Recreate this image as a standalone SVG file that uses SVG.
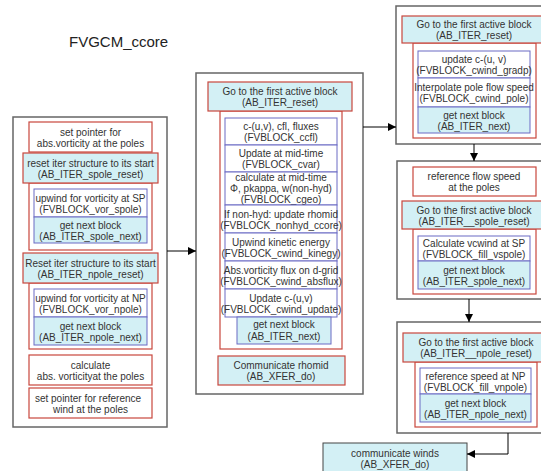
<svg xmlns="http://www.w3.org/2000/svg" width="541" height="471" viewBox="0 0 541 471">
<style>
.outer{fill:#fff;stroke:#666;stroke-width:1.5}
.red{fill:#fff;stroke:#c9473d;stroke-width:1.2}
.loop{fill:none;stroke:#c9473d;stroke-width:1.2}
.hdr{fill:#d3f0f5;stroke:#c9473d;stroke-width:1.2}
.blue{fill:#fff;stroke:#6a6ac4;stroke-width:1}
.bluec{fill:#d3f0f5;stroke:#6a6ac4;stroke-width:1}
.dark{fill:#d3f0f5;stroke:#444;stroke-width:1}
text{font-family:"Liberation Sans",Arial,sans-serif;font-size:10px;fill:#333;text-anchor:middle}
.title{font-size:15px;text-anchor:start;fill:#222}
.conn{fill:none;stroke:#000;stroke-width:1}
</style>
<defs>
<marker id="ah" markerUnits="userSpaceOnUse" markerWidth="8" markerHeight="8" refX="8" refY="4" orient="auto">
<path d="M0,0 L8,4 L0,8 z" fill="#000"/>
</marker>
</defs>
<rect width="541" height="471" fill="#fff"/>
<text class="title" x="69" y="47">FVGCM_ccore</text>

<g id="left">
<rect class="outer" x="13" y="117" width="154" height="310"/>
<g id="l-setptr"><rect class="red" x="29" y="122" width="123" height="30"/>
<text x="90.5" y="135.5">set pointer for</text><text x="90.5" y="146.5">abs.vorticity at the poles</text></g>
<rect class="loop" x="29" y="183" width="123" height="67"/>
<g id="l-spreset"><rect class="hdr" x="23" y="153" width="135" height="30"/>
<text x="90.5" y="166.5">reset iter structure to its start</text><text x="90.5" y="177.5">(AB_ITER_spole_reset)</text></g>
<g id="l-vorsp"><rect class="blue" x="34" y="189" width="113" height="28"/>
<text x="90.5" y="201.5">upwind for vorticity at SP</text><text x="90.5" y="212.5">(FVBLOCK_vor_spole)</text></g>
<g id="l-spnext"><rect class="bluec" x="34" y="217" width="113" height="26"/>
<text x="90.5" y="228.5">get next block</text><text x="90.5" y="239.5">(AB_ITER_spole_next)</text></g>
<rect class="loop" x="29" y="283" width="123" height="66"/>
<g id="l-npreset"><rect class="hdr" x="23" y="253" width="135" height="30"/>
<text x="90.5" y="266.5">Reset iter structure to its start</text><text x="90.5" y="277.5">(AB_ITER_npole_reset)</text></g>
<g id="l-vornp"><rect class="blue" x="34" y="289" width="113" height="28"/>
<text x="90.5" y="301.5">upwind for vorticity at NP</text><text x="90.5" y="312.5">(FVBLOCK_vor_npole)</text></g>
<g id="l-npnext"><rect class="bluec" x="34" y="317" width="113" height="28"/>
<text x="90.5" y="329.5">get next block</text><text x="90.5" y="340.5">(AB_ITER_npole_next)</text></g>
<g id="l-calc"><rect class="red" x="29" y="355" width="123" height="30"/>
<text x="90.5" y="368.5">calculate</text><text x="90.5" y="379.5">abs. vorticityat the poles</text></g>
<g id="l-setref"><rect class="red" x="29" y="388" width="123" height="30"/>
<text x="88" y="401.5">set pointer for reference</text><text x="90.5" y="412.5">wind at the poles</text></g>
</g>

<g id="middle">
<rect class="outer" x="196" y="73" width="167" height="321"/>
<rect class="loop" x="220" y="111" width="122" height="238"/>
<g id="m-reset"><rect class="hdr" x="208" y="82" width="144" height="29"/>
<text x="280" y="95">Go to the first active block</text><text x="280" y="106">(AB_ITER_reset)</text></g>
<g id="m-ccfl"><rect class="blue" x="225" y="118" width="112" height="27"/>
<text x="281" y="130">c-(u,v), cfl, fluxes</text><text x="281" y="141">(FVBLOCK_ccfl)</text></g>
<g id="m-cvar"><rect class="blue" x="225" y="145" width="112" height="27"/>
<text x="281" y="157">Update at mid-time</text><text x="281" y="168">(FVBLOCK_cvar)</text></g>
<g id="m-cgeo"><rect class="blue" x="225" y="172" width="112" height="33"/>
<text x="281" y="180.5">calculate at mid-time</text><text x="281" y="191.5">Φ, pkappa, w(non-hyd)</text><text x="281" y="202.5">(FVBLOCK_cgeo)</text></g>
<g id="m-nonhyd"><rect class="blue" x="225" y="205" width="112" height="28"/>
<text x="281" y="217.5">If non-hyd: update rhomid</text><text x="281" y="228.5">(FVBLOCK_nonhyd_ccore)</text></g>
<g id="m-kinegy"><rect class="blue" x="225" y="233" width="112" height="28"/>
<text x="281" y="245.5">Upwind kinetic energy</text><text x="281" y="256.5">(FVBLOCK_cwind_kinegy)</text></g>
<g id="m-absflux"><rect class="blue" x="225" y="261" width="112" height="28"/>
<text x="281" y="273.5">Abs.vorticity flux on d-grid</text><text x="281" y="284.5">(FVBLOCK_cwind_absflux)</text></g>
<g id="m-update"><rect class="blue" x="225" y="289" width="112" height="28"/>
<text x="281" y="301.5">Update c-(u,v)</text><text x="281" y="312.5">(FVBLOCK_cwind_update)</text></g>
<g id="m-next"><rect class="bluec" x="237" y="317" width="94" height="27"/>
<text x="284" y="327.5">get next block</text><text x="284" y="339.5">(AB_ITER_next)</text></g>
<g id="m-xfer"><rect class="hdr" x="218" y="356" width="127" height="29"/>
<text x="281" y="369">Communicate rhomid</text><text x="281" y="380">(AB_XFER_do)</text></g>
</g>

<g id="right1">
<rect class="outer" x="396" y="6" width="152" height="138"/>
<rect class="loop" x="413" y="43" width="123" height="95"/>
<g id="r1-reset"><rect class="hdr" x="402" y="16" width="146" height="27"/>
<text x="474" y="28">Go to the first active block</text><text x="474" y="39">(AB_ITER_reset)</text></g>
<g id="r1-gradp"><rect class="blue" x="418" y="51" width="112" height="27"/>
<text x="474" y="63">update c-(u, v)</text><text x="474" y="74">(FVBLOCK_cwind_gradp)</text></g>
<g id="r1-pole"><rect class="blue" x="418" y="78" width="112" height="29"/>
<text x="474" y="91">Interpolate pole flow speed</text><text x="474" y="102">(FVBLOCK_cwind_pole)</text></g>
<g id="r1-next"><rect class="bluec" x="418" y="107" width="112" height="26"/>
<text x="474" y="118.5">get next block</text><text x="474" y="129.5">(AB_ITER_next)</text></g>
</g>

<g id="right2">
<rect class="outer" x="397" y="161" width="151" height="138"/>
<g id="r2-ref"><rect class="red" x="413" y="167" width="123" height="29"/>
<text x="474" y="180">reference flow speed</text><text x="474" y="191">at the poles</text></g>
<rect class="loop" x="413" y="229" width="123" height="65"/>
<g id="r2-reset"><rect class="hdr" x="402" y="201" width="146" height="28"/>
<text x="474" y="213.5">Go to the first active block</text><text x="474" y="224.5">(AB_ITER__spole_reset)</text></g>
<g id="r2-vspole"><rect class="blue" x="418" y="236" width="112" height="25"/>
<text x="474" y="247">Calculate vcwind at SP</text><text x="474" y="258">(FVBLOCK_fill_vspole)</text></g>
<g id="r2-next"><rect class="bluec" x="418" y="261" width="112" height="28"/>
<text x="474" y="273.5">get next block</text><text x="474" y="284.5">(AB_ITER_spole_next)</text></g>
</g>

<g id="right3">
<rect class="outer" x="397" y="322" width="151" height="111"/>
<rect class="loop" x="415" y="362" width="122" height="65"/>
<g id="r3-reset"><rect class="hdr" x="403" y="333" width="145" height="29"/>
<text x="476" y="346">Go to the first active block</text><text x="476" y="357">(AB_ITER__npole_reset)</text></g>
<g id="r3-vnpole"><rect class="blue" x="420" y="368" width="111" height="26"/>
<text x="475.5" y="379.5">reference speed at NP</text><text x="475.5" y="390.5">(FVBLOCK_fill_vnpole)</text></g>
<g id="r3-next"><rect class="bluec" x="420" y="394" width="111" height="28"/>
<text x="475.5" y="406.5">get next block</text><text x="475.5" y="417.5">(AB_ITER_npole_next)</text></g>
</g>

<g id="winds">
<rect class="dark" x="323" y="443" width="144" height="40"/>
<text x="395" y="456.5">communicate winds</text><text x="395" y="467.5">(AB_XFER_do)</text>
</g>

<g id="connectors">
<path class="conn" d="M167,251 H196" marker-end="url(#ah)"/>
<path class="conn" d="M363,127 H396" marker-end="url(#ah)"/>
<path class="conn" d="M474,144 V161" marker-end="url(#ah)"/>
<path class="conn" d="M469,299 V322" marker-end="url(#ah)"/>
<path class="conn" d="M508,433 V454 H467" marker-end="url(#ah)"/>
</g>
</svg>
